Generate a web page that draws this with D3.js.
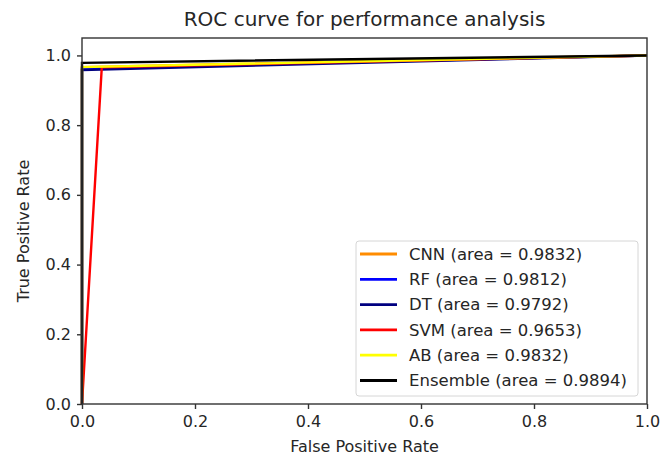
<!DOCTYPE html>
<html>
<head>
<meta charset="utf-8">
<script src="https://cdn.jsdelivr.net/npm/d3@7"></script>
<style>
  body { margin: 0; background: #fff; }
  text { font-family: "DejaVu Sans", sans-serif; fill: #262626; }
</style>
</head>
<body>
<script>
// ROC curve data, one array per model (fpr/tpr points)
let names = ["CNN", "RF", "DT", "SVM", "AB", "Ensemble"];
let areas = ["0.9832", "0.9812", "0.9792", "0.9653", "0.9832", "0.9894"];
let colors = ["#ff8c00", "#0000ff", "#000080", "#ff0000", "#ffff00", "#000000"];

let fprCNN = [0, 0, 1],  tprCNN = [0, 0.9664, 1];
let fprRF = [0, 0, 1],   tprRF = [0, 0.9624, 1];
let fprDT = [0, 0, 1],   tprDT = [0, 0.9584, 1];
let fprSVM = [0, 0.035, 1], tprSVM = [0, 0.9656, 1];
let fprAB = [0, 0, 1],   tprAB = [0, 0.9664, 1];
let fprEns = [0, 0, 1],  tprEns = [0, 0.9788, 1];

let xTicks = [0, 0.2, 0.4, 0.6, 0.8, 1.0];
let yTicks = [0, 0.2, 0.4, 0.6, 0.8, 1.0];

let fprs = [fprCNN, fprRF, fprDT, fprSVM, fprAB, fprEns];
let tprs = [tprCNN, tprRF, tprDT, tprSVM, tprAB, tprEns];

let svg = d3.select("body").append("svg")
  .attr("width", 671)
  .attr("height", 455);

let pLeft = 82, pRight = 647, pTop = 38, pBottom = 404;

let xScale = d3.scaleLinear().domain([0, 1]).range([pLeft, pRight]);
let yScale = d3.scaleLinear().domain([0, 1.05]).range([pBottom, pTop]);

// curves
let line = d3.line()
  .x((d) => xScale(d[0]))
  .y((d) => yScale(d[1]));

names.forEach(function(n, i) {
  let pts = fprs[i].map((f, j) => [f, tprs[i][j]]);
  svg.append("path")
    .datum(pts)
    .attr("d", line)
    .attr("fill", "none")
    .attr("stroke", colors[i])
    .attr("stroke-width", 2.4);
});

// axes
let xAxis = d3.axisBottom(xScale).tickValues(xTicks).tickFormat(d3.format(".1f"))
  .tickSize(5).tickSizeOuter(0).tickPadding(7);
let yAxis = d3.axisLeft(yScale).tickValues(yTicks).tickFormat(d3.format(".1f"))
  .tickSize(5).tickSizeOuter(0).tickPadding(6);

let gx = svg.append("g").attr("transform", "translate(0," + pBottom + ")").call(xAxis);
let gy = svg.append("g").attr("transform", "translate(" + pLeft + ",0)").call(yAxis);
[gx, gy].forEach(function(g) {
  g.select(".domain").remove();
  g.selectAll("line").attr("stroke", "#333").attr("stroke-width", 1.4);
  g.selectAll("text").style("font-size", "16px").style("fill", "#262626")
    .style("font-family", "DejaVu Sans");
});

// frame
svg.append("rect")
  .attr("x", pLeft).attr("y", pTop)
  .attr("width", pRight - pLeft).attr("height", pBottom - pTop)
  .attr("fill", "none")
  .attr("stroke", "#333")
  .attr("stroke-width", 1.4);

// labels
svg.append("text")
  .attr("x", (pLeft + pRight) / 2).attr("y", 26)
  .attr("text-anchor", "middle")
  .style("font-size", "20px")
  .text("ROC curve for performance analysis");

svg.append("text")
  .attr("x", (pLeft + pRight) / 2).attr("y", 452)
  .attr("text-anchor", "middle")
  .style("font-size", "16px")
  .text("False Positive Rate");

svg.append("text")
  .attr("transform", "translate(29," + ((pTop + pBottom) / 2 + 10) + ")rotate(-90)")
  .attr("text-anchor", "middle")
  .style("font-size", "16px")
  .text("True Positive Rate");

// legend
let legend = svg.append("g");
legend.append("rect")
  .attr("x", 356).attr("y", 241)
  .attr("width", 282).attr("height", 155)
  .attr("rx", 3)
  .attr("fill", "#fff")
  .attr("fill-opacity", 0.8)
  .attr("stroke", "#d6d6d6");

names.forEach(function(n, i) {
  let y = 254 + i * 25.3;
  legend.append("line")
    .attr("x1", 360).attr("x2", 397)
    .attr("y1", y).attr("y2", y)
    .attr("stroke", colors[i])
    .attr("stroke-width", 2.8);
  legend.append("text")
    .attr("x", 409).attr("y", y)
    .attr("dy", "0.35em")
    .style("font-size", "16.5px")
    .text(n + " (area = " + areas[i] + ")");
});
</script>
</body>
</html>
